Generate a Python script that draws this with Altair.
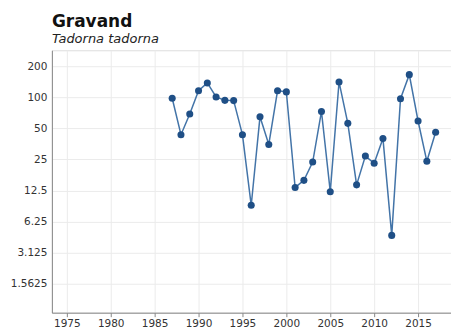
import altair as alt
import pandas as pd

# Annual index values for Common Shelduck (Tadorna tadorna)
years = list(range(1987, 2018))
index_values = [98, 43.5, 69, 116, 138, 101, 93.5, 93, 43.5, 9, 65, 35, 116, 113,
                13.4, 15.7, 23.6, 73, 12.2, 141, 56, 14.2, 27, 23, 40, 4.6, 97,
                166, 59, 24, 46]
y_ticks = [1.5625, 3.125, 6.25, 12.5, 25, 50, 100, 200]
x_ticks = [1975, 1980, 1985, 1990, 1995, 2000, 2005, 2010, 2015]

df = pd.DataFrame({"year": years, "value": index_values})

FONT = "DejaVu Sans"

x_enc = alt.X(
    "year:Q",
    scale=alt.Scale(domain=[1973.3, 2018.75], nice=False, zero=False),
    axis=alt.Axis(values=x_ticks, format="d", title=None, grid=True,
                  gridColor="#ebebeb", labelFontSize=10.5, labelColor="#333333",
                  domainColor="#888888", tickColor="#888888", tickSize=4,
                  labelPadding=2, labelFont=FONT),
)
y_enc = alt.Y(
    "value:Q",
    scale=alt.Scale(type="log", base=2, domain=[0.82, 286], nice=False),
    axis=alt.Axis(values=y_ticks, title=None, grid=True, gridColor="#ebebeb",
                  labelFontSize=10.5, labelColor="#333333", domainColor="#888888",
                  tickColor="#888888", tickSize=0, labelPadding=5,
                  labelFont=FONT, labelExpr="datum.value"),
)

line = alt.Chart(df).mark_line(color="#4374a8", strokeWidth=1.5).encode(x=x_enc, y=y_enc)
points = alt.Chart(df).mark_point(filled=True, color="#1f4f86", size=50, opacity=1).encode(
    x=x_enc, y=y_enc)

chart = (
    (line + points)
    .properties(
        width=400,
        height=263,
        title=alt.TitleParams(
            text="Gravand",
            subtitle="Tadorna tadorna",
            anchor="start",
            frame="group",
            font=FONT,
            fontSize=17,
            fontWeight="bold",
            color="#111111",
            subtitleFont=FONT,
            subtitleFontSize=13,
            subtitleFontStyle="italic",
            subtitleColor="#222222",
            subtitlePadding=2,
            offset=3,
        ),
        autosize=alt.AutoSizeParams(type="none"),
        padding={"left": 52, "top": 50, "right": 0, "bottom": 20},
    )
    .configure_view(stroke="#999999", strokeWidth=1)
    .configure(background="white")
)

chart.save("out.html", embed_options={"renderer": "svg", "actions": False})
